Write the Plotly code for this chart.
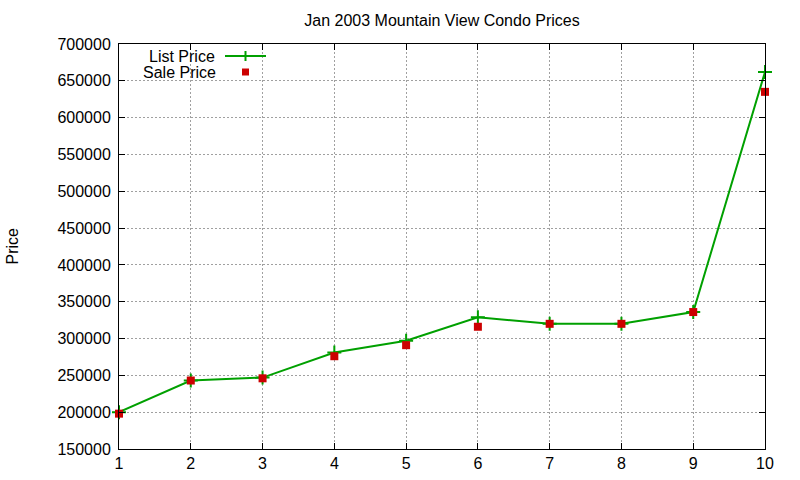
import plotly.graph_objects as go

months = [1, 2, 3, 4, 5, 6, 7, 8, 9, 10]
list_price = [200000, 243000, 247000, 281000, 297000, 329000, 320000, 320000, 336000, 662000]
sale_price = [198000, 243000, 246000, 276000, 291000, 316000, 320000, 320000, 336000, 635000]
x_ticks = list(range(1, 11))
y_ticks = list(range(150000, 700001, 50000))

green = "#00a000"
red = "#cc0000"
font = "Liberation Sans, Arial, sans-serif"

trace1 = go.Scatter(
    x=months,
    y=list_price,
    mode="lines+markers",
    name="List Price",
    cliponaxis=False,
    line=dict(color=green, width=2),
    marker=dict(symbol="cross-thin", size=10, line=dict(color=green, width=2)),
)
trace2 = go.Scatter(
    x=months,
    y=sale_price,
    mode="markers",
    name="Sale Price",
    cliponaxis=False,
    marker=dict(symbol="square", size=8, color=red),
)

axis_style = dict(
    showline=True, linecolor="black", linewidth=1, mirror="ticks",
    ticks="inside", ticklen=6, tickcolor="black", automargin=False,
    showgrid=True, gridcolor="#a0a0a0", griddash="2px,2px", gridwidth=1,
    zeroline=False, tickfont=dict(size=16, color="black"),
)

layout = go.Layout(
    width=800, height=480,
    plot_bgcolor="white", paper_bgcolor="white",
    font=dict(family=font, size=16, color="black"),
    margin=dict(l=119, r=35, t=44, b=31),
    showlegend=False,
    title=dict(text="Jan 2003 Mountain View Condo Prices", x=0.5, xref="paper",
               y=(480 - 20) / 480, yanchor="middle", font=dict(size=16)),
    xaxis=dict(range=[1, 10], tickvals=x_ticks, **axis_style),
    yaxis=dict(range=[150000, 700000], tickvals=y_ticks, tickformat="d",
               ticklabelstandoff=4, **axis_style),
)

fig = go.Figure(data=[trace1, trace2], layout=layout)

# y axis title
fig.add_annotation(text="Price", textangle=-90, xref="paper", yref="paper",
                   x=(12 - 119) / 646, y=0.5, xanchor="center", yanchor="middle",
                   showarrow=False, font=dict(size=16))

# gnuplot-style key: text right-justified, sample on the right
def py(p):
    return 1 - (p - 44) / 405

def px(p):
    return (p - 119) / 646

fig.add_annotation(text="List Price", xref="paper", yref="paper", x=px(217), y=py(56),
                   xanchor="right", yanchor="middle", showarrow=False, height=16,
                   font=dict(size=16))
fig.add_annotation(text="Sale Price", xref="paper", yref="paper", x=px(218), y=py(72),
                   xanchor="right", yanchor="middle", showarrow=False, height=16,
                   font=dict(size=16))
fig.add_shape(type="line", xref="paper", yref="paper", x0=px(225), x1=px(266),
              y0=py(56), y1=py(56), line=dict(color=green, width=2))
fig.add_shape(type="line", xref="paper", yref="paper", x0=px(245.5), x1=px(245.5),
              y0=py(51), y1=py(61), line=dict(color=green, width=2))
fig.add_shape(type="rect", xref="paper", yref="paper", x0=px(242), x1=px(249),
              y0=py(68.5), y1=py(75.5), fillcolor=red, line=dict(width=0))

# drop the default page margin so the figure sits at (0, 0)
fig.write_html("out.html", config={"displayModeBar": False},
               post_script="document.body.style.margin='0';")
